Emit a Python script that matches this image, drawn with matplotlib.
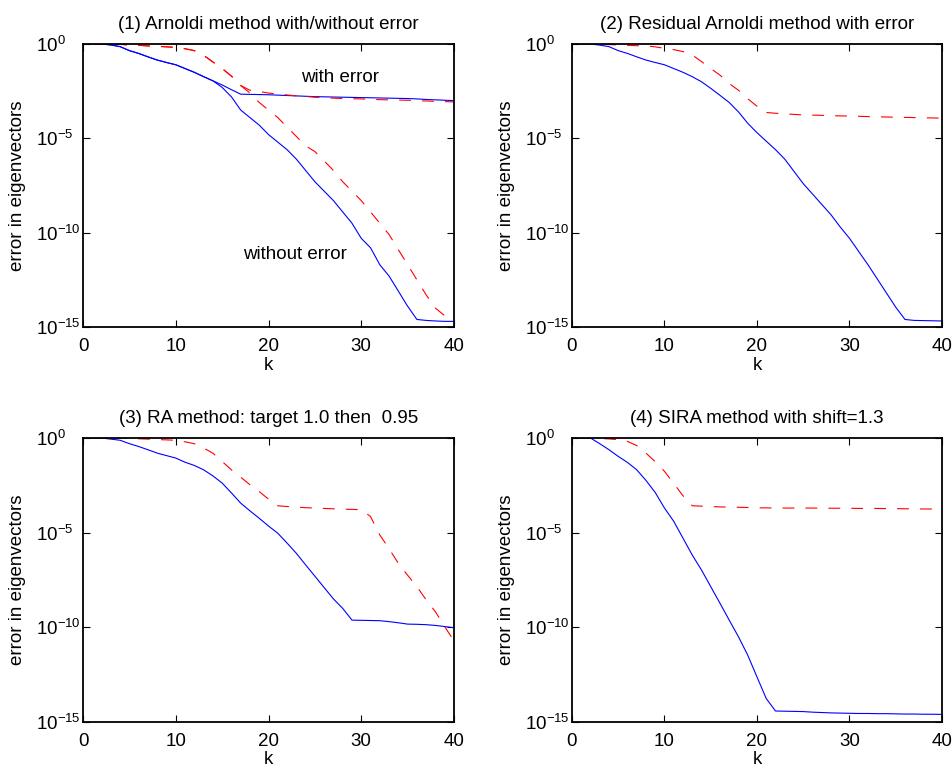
import numpy as np
import matplotlib
matplotlib.use("Agg")
import matplotlib.pyplot as plt
from matplotlib.ticker import FixedLocator, LogFormatterSciNotation

plt.rcParams["font.family"] = ["Liberation Sans", "DejaVu Sans"]
plt.rcParams["mathtext.fontset"] = "custom"
plt.rcParams["mathtext.rm"] = "Liberation Sans"
plt.rcParams["mathtext.it"] = "Liberation Sans:italic"
plt.rcParams["lines.scale_dashes"] = False

# iteration index k = 1..40
k = np.arange(1, 41)

# log10 of the eigenvector error
# (1) Arnoldi with/without error
p1_blue_err = [0, 0, -0.05, -0.14, -0.35, -0.5, -0.68, -0.85, -0.98, -1.1,
               -1.3, -1.5, -1.73, -1.95, -2.17, -2.42, -2.66, -2.67, -2.68, -2.69,
               -2.71, -2.73, -2.75, -2.77, -2.79, -2.8, -2.81, -2.82, -2.83, -2.84,
               -2.85, -2.86, -2.87, -2.88, -2.89, -2.91, -2.94, -2.96, -2.98, -3.0]
p1_blue_noerr = [0, 0, -0.05, -0.14, -0.35, -0.5, -0.68, -0.85, -0.98, -1.1,
                 -1.3, -1.5, -1.73, -1.95, -2.3, -2.8, -3.5, -3.9, -4.3, -4.8,
                 -5.2, -5.6, -6.1, -6.7, -7.3, -7.8, -8.3, -8.9, -9.5, -10.3,
                 -10.8, -11.7, -12.3, -13.1, -13.9, -14.6, -14.65, -14.68, -14.7, -14.7]
p1_red_err = [0, 0, 0, -0.02, -0.05, -0.07, -0.1, -0.12, -0.15, -0.18,
              -0.25, -0.35, -0.6, -0.95, -1.3, -1.7, -2.2, -2.45, -2.52, -2.6,
              -2.65, -2.7, -2.75, -2.78, -2.82, -2.85, -2.87, -2.89, -2.9, -2.91,
              -2.93, -2.95, -2.96, -2.97, -2.98, -3.0, -3.02, -3.04, -3.05, -3.07]
p1_red_noerr = [0, 0, 0, -0.02, -0.05, -0.07, -0.1, -0.12, -0.15, -0.18,
                -0.25, -0.35, -0.6, -0.95, -1.3, -1.7, -2.2, -2.6, -3.1, -3.5,
                -3.9, -4.4, -4.9, -5.4, -5.7, -6.2, -6.7, -7.3, -7.8, -8.3,
                -8.9, -9.5, -10.1, -10.9, -11.7, -12.5, -13.3, -14.0, -14.4, -14.6]

# (2) Residual Arnoldi with error
p2_blue = [0, 0, -0.06, -0.14, -0.35, -0.5, -0.68, -0.85, -0.98, -1.1,
           -1.3, -1.5, -1.73, -2.0, -2.35, -2.72, -3.1, -3.6, -4.2, -4.7,
           -5.15, -5.6, -6.1, -6.75, -7.4, -7.95, -8.5, -9.05, -9.7, -10.3,
           -11.0, -11.7, -12.45, -13.2, -13.95, -14.6, -14.65, -14.66, -14.67, -14.68]
p2_red = [0, 0, 0, -0.03, -0.05, -0.07, -0.09, -0.1, -0.15, -0.23,
          -0.3, -0.4, -0.58, -0.93, -1.3, -1.65, -2.1, -2.45, -2.9, -3.3,
          -3.63, -3.67, -3.7, -3.73, -3.76, -3.77, -3.78, -3.8, -3.81, -3.82,
          -3.83, -3.85, -3.86, -3.87, -3.88, -3.89, -3.9, -3.91, -3.92, -3.93]

# (3) RA method, target 1.0 then 0.95
p3_blue = [0, 0, -0.06, -0.12, -0.3, -0.45, -0.62, -0.8, -0.93, -1.06,
           -1.28, -1.45, -1.68, -2.0, -2.38, -2.9, -3.44, -3.85, -4.24, -4.65,
           -5.03, -5.55, -6.09, -6.7, -7.3, -7.9, -8.5, -9.0, -9.62, -9.63,
           -9.64, -9.65, -9.7, -9.76, -9.83, -9.84, -9.86, -9.9, -9.96, -10.02]
p3_red = [0, 0, 0, 0, -0.02, -0.04, -0.06, -0.08, -0.1, -0.12,
          -0.2, -0.3, -0.53, -0.8, -1.24, -1.68, -2.07, -2.47, -2.83, -3.23,
          -3.58, -3.62, -3.65, -3.68, -3.7, -3.72, -3.74, -3.76, -3.77, -3.79,
          -4.15, -5.12, -5.85, -6.62, -7.25, -7.85, -8.55, -9.18, -9.97, -10.71]

# (4) SIRA method, shift 1.3
p4_blue = [0, 0, -0.3, -0.62, -0.97, -1.29, -1.68, -2.24, -2.88, -3.7,
           -4.4, -5.29, -6.18, -6.97, -7.85, -8.73, -9.62, -10.5, -11.47, -12.62,
           -13.76, -14.42, -14.43, -14.44, -14.45, -14.48, -14.5, -14.52, -14.53, -14.54,
           -14.55, -14.55, -14.56, -14.56, -14.57, -14.58, -14.58, -14.59, -14.59, -14.6]
p4_red = [0, 0, -0.02, -0.05, -0.09, -0.18, -0.4, -0.8, -1.25, -1.76,
          -2.4, -3.05, -3.58, -3.6, -3.62, -3.64, -3.65, -3.66, -3.67, -3.69,
          -3.69, -3.7, -3.7, -3.7, -3.7, -3.7, -3.71, -3.71, -3.71, -3.71,
          -3.72, -3.72, -3.72, -3.73, -3.73, -3.74, -3.74, -3.75, -3.75, -3.76]

titles = ["(1) Arnoldi method with/without error",
          "(2) Residual Arnoldi method with error",
          "(3) RA method: target 1.0 then  0.95",
          "(4) SIRA method with shift=1.3"]
ytick_vals = [1e-15, 1e-10, 1e-5, 1e0]
xtick_vals = [0, 10, 20, 30, 40]

fs = 13.5

fig = plt.figure(figsize=(9.52, 7.68), dpi=100)
pos = [[0.0872, 0.5742, 0.3897, 0.3685],
       [0.6008, 0.5742, 0.3887, 0.3685],
       [0.0872, 0.0599, 0.3897, 0.3698],
       [0.6008, 0.0599, 0.3887, 0.3698]]
axes = [fig.add_axes(p) for p in pos]

dash = (0, (8.5, 8))
blue_kw = dict(color="#0000ff", lw=0.8)
red_kw = dict(color="#ff0000", lw=0.8, ls=dash)

ax = axes[0]
ax.semilogy(k, 10.0 ** np.array(p1_blue_err), **blue_kw)
ax.semilogy(k, 10.0 ** np.array(p1_blue_noerr), **blue_kw)
ax.semilogy(k, 10.0 ** np.array(p1_red_err), **red_kw)
ax.semilogy(k, 10.0 ** np.array(p1_red_noerr), **red_kw)
ax.text(27.7, 10 ** -1.76, "with error", ha="center", va="center", fontsize=fs)
ax.text(22.8, 10 ** -11.17, "without error", ha="center", va="center", fontsize=fs)

axes[1].semilogy(k, 10.0 ** np.array(p2_blue), **blue_kw)
axes[1].semilogy(k, 10.0 ** np.array(p2_red), **red_kw)
axes[2].semilogy(k, 10.0 ** np.array(p3_blue), **blue_kw)
axes[2].semilogy(k, 10.0 ** np.array(p3_red), **red_kw)
axes[3].semilogy(k, 10.0 ** np.array(p4_blue), **blue_kw)
axes[3].semilogy(k, 10.0 ** np.array(p4_red), **red_kw)

for i, ax in enumerate(axes):
    ax.set_xlim(0, 40)
    ax.set_ylim(1e-15, 1e0)
    ax.xaxis.set_major_locator(FixedLocator(xtick_vals))
    ax.yaxis.set_major_locator(FixedLocator(ytick_vals))
    ax.yaxis.set_minor_locator(FixedLocator([]))
    ax.yaxis.set_major_formatter(LogFormatterSciNotation())
    ax.tick_params(direction="in", top=True, right=True, length=5,
                   width=0.8, labelsize=fs)
    ax.tick_params(axis="x", pad=8)
    # MATLAB style: the "10" base sits at a fixed spot, exponent hangs right
    ax.tick_params(axis="y", pad=34)
    for lab in ax.get_yticklabels():
        lab.set_horizontalalignment("left")
    for s in ax.spines.values():
        s.set_linewidth(1.3)
    ax.set_title(titles[i], fontsize=fs, pad=11)
    ax.set_ylabel("error in eigenvectors", fontsize=fs, labelpad=7)
    ax.set_xlabel("k", fontsize=fs, labelpad=1)

fig.savefig("out.png", dpi=100)
